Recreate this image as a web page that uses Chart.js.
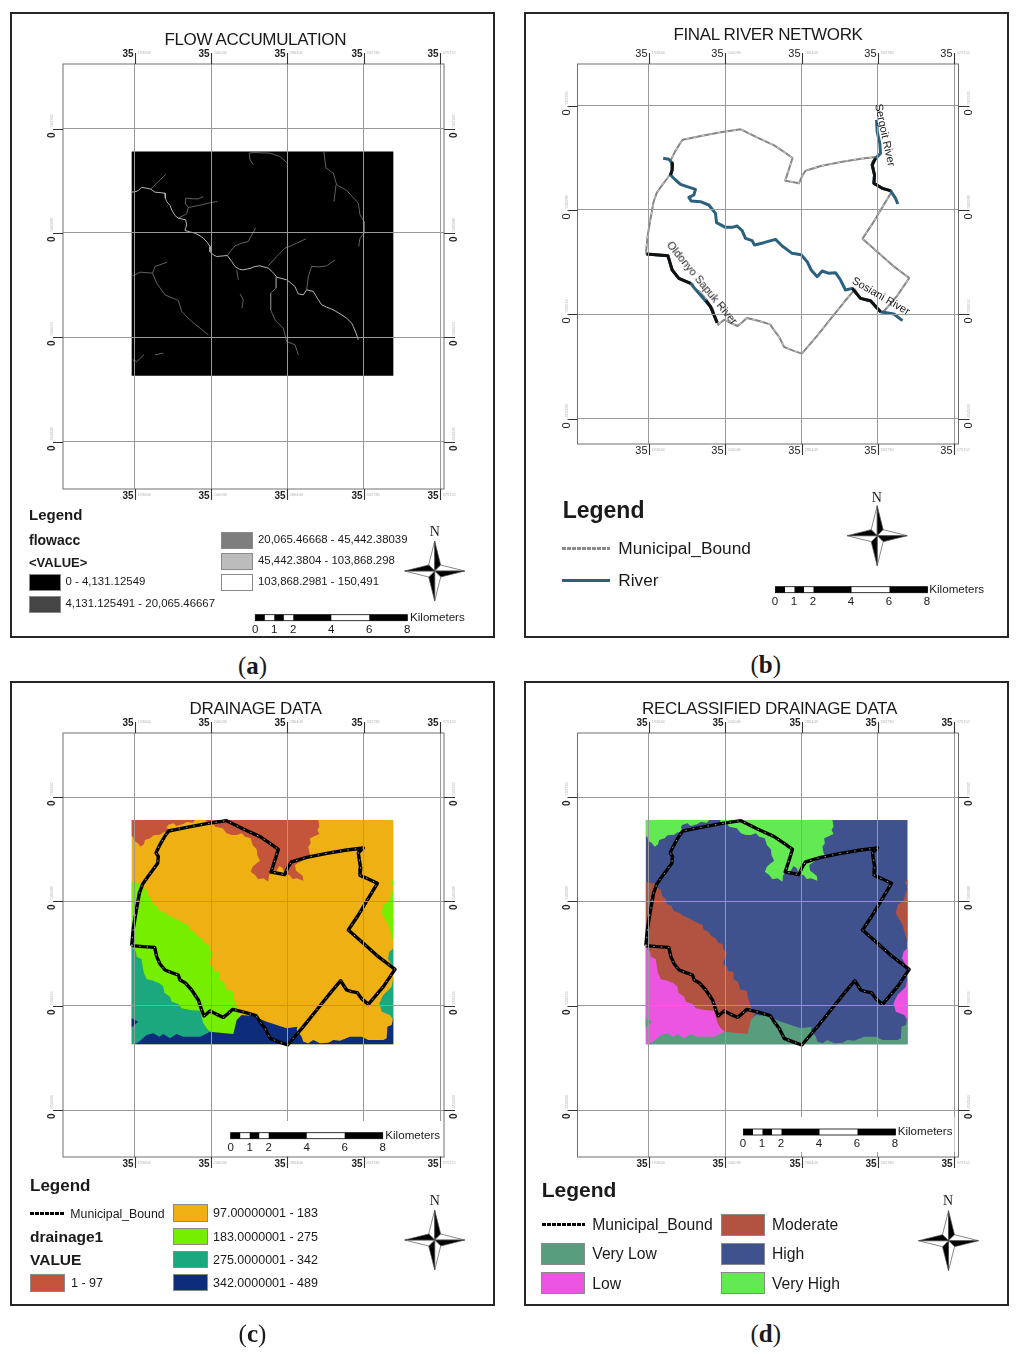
<!DOCTYPE html>
<html>
<head>
<meta charset="utf-8">
<title>Drainage maps</title>
<script src="https://cdn.jsdelivr.net/npm/chart.js@4"></script>
<style>
  html, body { margin: 0; padding: 0; background: #fff; }
  body { position: relative; width: 1024px; height: 1354px; overflow: hidden; font-family: "Liberation Sans", Arial, sans-serif; color: #1a1a1a; }
  .frame { position: absolute; box-sizing: border-box; border: 2px solid #262626; background: #fff; }
  canvas { position: absolute; }
  .txt { position: absolute; white-space: nowrap; line-height: 1; }
  .swatch { position: absolute; box-sizing: border-box; border: 1px solid #8a8a8a; }
</style>
</head>
<body>
<script>
// Map grid, in map units (1 unit = a third of a pixel)
var xGrid = [44, 273, 502, 731, 960];
var yGrid = [-39, 273, 587, 900];
var xTickLabels = ["193664", "240036", "286408", "332780", "379152"];
var yTickLabels = ["593360", "546988", "500616", "454244"];
var rasterX = [35, 820];
var rasterY = [30, 703];

var municipalBound = [[35,407],[40,355],[50,295],[58,250],[68,222],[85,198],[100,178],[113,160],[115,140],[108,128],[122,100],[135,78],[146,63],[200,52],[260,41],[320,32],[370,57],[420,80],[450,100],[475,118],[465,150],[453,186],[475,190],[494,194],[505,170],[514,156],[560,142],[620,130],[680,120],[730,114],[715,128],[718,150],[722,175],[720,196],[745,207],[772,220],[745,265],[715,315],[685,360],[730,400],[775,440],[825,478],[790,530],[745,583],[725,566],[712,548],[695,545],[680,540],[672,528],[662,512],[630,550],[590,600],[550,650],[503,705],[475,695],[450,685],[435,655],[420,635],[408,617],[375,607],[338,598],[325,610],[310,622],[290,613],[270,603],[252,618],[245,600],[235,570],[215,540],[195,518],[180,510],[175,495],[155,488],[135,480],[120,462],[110,440],[104,412],[70,410],[35,407]];

// Drainage classes
var classOneWest = [[35,30],[225,30],[218,38],[200,36],[190,42],[170,48],[160,40],[145,44],[140,52],[146,63],[128,68],[120,74],[100,76],[92,84],[75,90],[72,102],[62,110],[52,98],[42,92],[40,82],[35,78]];
var classOneNorth = [[258,30],[595,30],[598,50],[592,60],[598,72],[585,78],[570,85],[572,100],[565,110],[568,128],[575,140],[548,150],[525,165],[528,182],[538,190],[548,198],[550,212],[530,205],[518,207],[508,195],[495,195],[488,175],[478,168],[470,182],[455,188],[447,195],[445,215],[430,205],[415,208],[405,195],[392,185],[398,170],[410,160],[420,152],[412,135],[410,118],[398,105],[392,85],[375,80],[365,70],[350,75],[335,75],[320,70],[308,55],[285,50],[278,40],[258,35]];
var classThreeWest = [[35,215],[65,222],[72,235],[80,240],[84,258],[95,268],[98,282],[112,288],[118,302],[135,308],[148,318],[165,325],[178,332],[192,340],[205,345],[208,358],[222,365],[232,378],[245,385],[252,398],[265,402],[268,418],[278,428],[272,445],[266,462],[278,470],[282,483],[298,486],[298,508],[312,515],[318,538],[338,543],[342,565],[350,590],[362,612],[352,630],[346,682],[260,682],[35,655]];
var classThreeEast = [[820,210],[812,215],[820,232],[808,272],[790,285],[785,310],[805,345],[820,395]];
var classFourWest = [[35,412],[48,425],[50,440],[65,448],[68,470],[72,490],[80,508],[100,512],[118,520],[130,530],[133,548],[150,560],[155,575],[175,582],[185,595],[210,600],[240,602],[246,625],[250,640],[260,655],[275,670],[240,685],[200,695],[150,698],[60,700],[35,703]];
var classFourEastUpper = [[820,415],[808,425],[804,445],[820,475]];
var classFourEastLower = [[820,500],[815,530],[790,555],[778,580],[785,605],[810,615],[820,630]];
var classFiveBottom = [[820,622],[815,645],[802,650],[800,685],[790,690],[745,690],[725,680],[690,680],[660,692],[640,690],[625,698],[600,700],[580,690],[565,700],[550,695],[545,680],[530,660],[532,650],[500,655],[470,645],[440,635],[415,625],[400,618],[365,615],[350,630],[340,672],[300,668],[270,665],[240,680],[215,680],[190,680],[170,672],[150,685],[130,672],[118,680],[100,670],[80,675],[60,692],[50,700],[40,703],[820,703]];
var classFiveWest = [[35,625],[55,635],[35,652]];

// Flow lines, panel (a)
var flowMain = [[35,152],[48,150],[55,147],[65,138],[80,140],[92,143],[105,152],[135,155],[136,170],[140,180],[150,192],[155,205],[165,222],[175,230],[197,235],[200,250],[195,267],[212,272],[225,275],[240,283],[250,290],[262,303],[270,315],[270,330],[280,340],[290,345],[322,342],[335,360],[345,375],[358,383],[368,385],[390,381],[405,375],[420,373],[445,380],[458,392],[465,400],[470,407],[500,415],[512,424],[525,435],[530,447],[535,457],[550,460],[560,445],[580,450],[592,470],[605,490],[620,497],[640,505],[660,517],[680,530],[695,545],[700,555],[708,575],[715,595]];
var flowNorthWest = [[92,143],[115,120],[138,98]];
var flowLoopUpper = [[175,230],[200,217],[205,198],[195,185],[197,170],[220,172],[235,172],[250,165]];
var flowLoopLower = [[205,198],[235,192],[265,185],[292,180]];
var flowCentral = [[322,342],[335,325],[345,313],[365,305],[385,300],[395,280],[407,260]];
var flowEast = [[445,373],[470,345],[495,320],[515,312],[530,305],[558,292]];
var flowSouthEast = [[560,445],[565,405],[575,375],[600,376],[620,373],[645,355]];
var flowStubOne = [[350,385],[355,415]];
var flowStubTwo = [[360,457],[370,475],[366,500]];
var flowSouth = [[470,407],[468,440],[452,455],[452,505],[465,535],[490,560],[500,600],[525,610],[535,640]];
var flowNorthEast = [[612,30],[615,60],[618,80],[632,90],[640,95],[650,130],[680,147],[715,185],[720,220],[732,240],[732,275],[720,290],[716,315]];
var flowNorthEastStub = [[648,130],[642,180]];
var flowNorth = [[388,35],[400,33],[450,35],[480,45],[500,63]];
var flowNorthStub = [[388,35],[390,55],[400,70]];
var flowLower = [[38,403],[60,392],[98,395],[110,425],[135,460],[175,477],[185,510],[215,540],[265,580]];
var flowLowerStub = [[98,395],[105,375],[142,362]];
var flowCornerOne = [[38,655],[50,660],[72,640]];
var flowCornerTwo = [[105,640],[130,635]];

// Rivers, panel (b)
var sosianiRiver = [[87,119],[104,122],[115,134],[114,154],[109,169],[124,184],[139,197],[159,204],[184,212],[179,229],[164,236],[171,247],[199,249],[224,259],[244,284],[247,312],[274,326],[294,326],[309,322],[324,336],[334,359],[354,366],[361,379],[389,372],[424,362],[444,382],[474,404],[501,408],[519,429],[531,454],[549,474],[564,457],[584,464],[604,462],[619,484],[634,514],[654,509],[679,539],[709,546],[739,579],[779,586],[805,606]];
var sergoitRiver = [[727,4],[729,39],[737,74],[739,104],[724,119],[714,139],[721,169],[719,194],[744,209],[769,216],[784,239],[791,256]];
var oldonyoRiver = [[37,406],[101,411],[114,454],[134,479],[169,494],[194,524],[229,564],[249,612]];
// stretches of river that show black on the map
var sosianiDarkUpper = [[115,134],[114,154],[109,169]];
var sosianiDarkLower = [[654,509],[679,539],[709,546],[739,579]];
var sergoitDark = [[724,119],[714,139],[721,169],[719,194],[744,209],[769,216]];
var oldonyoDarkUpper = [[37,406],[101,411],[114,454],[134,479],[169,494]];
var oldonyoDarkLower = [[215,545],[229,564],[249,612]];

// Legend entries
var flowBreaks = ["0 - 4,131.12549", "4,131.125491 - 20,065.46667", "20,065.46668 - 45,442.38039", "45,442.3804 - 103,868.298", "103,868.2981 - 150,491"];
var flowColors = ["#000000", "#454545", "#7e7e7e", "#bcbcbc", "#ffffff"];
var drainageBreaks = ["1 - 97", "97.00000001 - 183", "183.0000001 - 275", "275.0000001 - 342", "342.0000001 - 489"];
var drainageColors = ["#c4543a", "#efb013", "#76ee00", "#1ca87e", "#0e2c7c"];
var reclassNames = ["Very High", "High", "Moderate", "Low", "Very Low"];
var reclassColors = ["#63ea52", "#40528e", "#b25240", "#ec55e2", "#589e7e"];
var scaleKm = [0, 1, 2, 4, 6, 8];
var scaleParts = [[0, 0.5], [1, 1.5], [2, 4], [6, 8]];


function pts(list) {
    return list.map(function (p) { return {x: p[0], y: p[1]}; });
}

function lineSet(list, color, width, dash) {
    return {
        type: "line",
        data: pts(list),
        borderColor: color,
        borderWidth: width,
        borderDash: dash || [],
        borderJoinStyle: "round",
        pointRadius: 0,
        tension: 0,
        fill: false
    };
}

function fillSet(list, color) {
    return {
        type: "line",
        data: pts(list),
        borderWidth: 0,
        backgroundColor: color,
        pointRadius: 0,
        tension: 0,
        fill: "shape"
    };
}

function rasterRect() {
    return [[rasterX[0], rasterY[0]], [rasterX[1], rasterY[0]], [rasterX[1], rasterY[1]], [rasterX[0], rasterY[1]]];
}

function drainageSets(colors) {
    return [
        fillSet(rasterRect(), colors[1]),
        fillSet(classOneWest, colors[0]),
        fillSet(classOneNorth, colors[0]),
        fillSet(classThreeWest, colors[2]),
        fillSet(classThreeEast, colors[2]),
        fillSet(classFourWest, colors[3]),
        fillSet(classFourEastUpper, colors[3]),
        fillSet(classFourEastLower, colors[3]),
        fillSet(classFiveBottom, colors[4]),
        fillSet(classFiveWest, colors[4]),
        lineSet(municipalBound, "#000000", 3.4),
        lineSet(municipalBound, "#e8e8e8", 0.7, [1.5, 6])
    ];
}

function flowSets() {
    var sets = [fillSet(rasterRect(), "#000000")];
    [flowLoopUpper, flowLoopLower, flowCentral, flowEast, flowSouthEast, flowStubOne, flowStubTwo, flowSouth,
        flowNorthEast, flowNorthEastStub, flowNorth, flowNorthStub, flowLower, flowLowerStub, flowCornerOne,
        flowCornerTwo, flowNorthWest].forEach(function (l) {
        sets.push(lineSet(l, "#7a7a7a", 0.8));
    });
    sets.push(lineSet(flowMain, "#b5b5b5", 1));
    return sets;
}

function riverSets() {
    return [
        lineSet(municipalBound, "#858585", 2),
        lineSet(municipalBound, "#ffffff", 0.6, [3, 5]),
        lineSet(sosianiRiver, "#2b617d", 3),
        lineSet(sergoitRiver, "#2b617d", 3),
        lineSet(oldonyoRiver, "#2b617d", 3),
        lineSet(sosianiDarkUpper, "#111111", 3),
        lineSet(sosianiDarkLower, "#111111", 3),
        lineSet(sergoitDark, "#111111", 3),
        lineSet(oldonyoDarkUpper, "#111111", 3),
        lineSet(oldonyoDarkLower, "#111111", 3)
    ];
}


// North arrow and scale bar
function drawNorth(ctx, cx, cy, r) {
    var inner = r * 0.2;
    function tri(x1, y1, x2, y2, x3, y3, fill) {
        ctx.beginPath();
        ctx.moveTo(x1, y1);
        ctx.lineTo(x2, y2);
        ctx.lineTo(x3, y3);
        ctx.closePath();
        ctx.fillStyle = fill;
        ctx.fill();
        ctx.lineWidth = 0.7;
        ctx.strokeStyle = "#555";
        ctx.stroke();
    }
    tri(cx, cy, cx, cy - r, cx - inner, cy - inner, "#fff");
    tri(cx, cy, cx, cy - r, cx + inner, cy - inner, "#000");
    tri(cx, cy, cx + r, cy, cx + inner, cy - inner, "#fff");
    tri(cx, cy, cx + r, cy, cx + inner, cy + inner, "#000");
    tri(cx, cy, cx, cy + r, cx + inner, cy + inner, "#fff");
    tri(cx, cy, cx, cy + r, cx - inner, cy + inner, "#000");
    tri(cx, cy, cx - r, cy, cx - inner, cy + inner, "#fff");
    tri(cx, cy, cx - r, cy, cx - inner, cy - inner, "#000");
}

function drawScaleBar(ctx, x, y) {
    var pxPerKm = 19;
    ctx.fillStyle = "#fff";
    ctx.fillRect(x, y, 8 * pxPerKm, 6);
    ctx.fillStyle = "#000";
    scaleParts.forEach(function (p) {
        ctx.fillRect(x + p[0] * pxPerKm, y, (p[1] - p[0]) * pxPerKm, 6);
    });
    ctx.strokeStyle = "#000";
    ctx.lineWidth = 0.8;
    ctx.strokeRect(x, y, 8 * pxPerKm, 6);
}

// Neat line, outer ticks, tick labels, north arrow, scale bar
var mapFurniture = {
    id: "mapFurniture",
    afterDraw: function (chart, args, o) {
        var ctx = chart.ctx, a = chart.chartArea;
        var xs = chart.scales.x, ys = chart.scales.y;
        ctx.save();
        ctx.strokeStyle = "#707070";
        ctx.lineWidth = 1;
        ctx.strokeRect(a.left, a.top, a.right - a.left, a.bottom - a.top);

        if (o.mask) {
            ctx.fillStyle = "#fff";
            ctx.fillRect(o.mask[0] - o.left, o.mask[1] - o.top, o.mask[2], o.mask[3]);
        }

        var big = o.tickFont + " \"Liberation Sans\", Arial, sans-serif";
        var tiny = "4px \"Liberation Sans\", Arial, sans-serif";

        xGrid.forEach(function (v, i) {
            var px = Math.round(xs.getPixelForValue(v)) + 0.5;
            ctx.strokeStyle = "#333";
            ctx.lineWidth = 1.1;
            ctx.beginPath();
            ctx.moveTo(px, a.top - 11);
            ctx.lineTo(px, a.top);
            ctx.moveTo(px, a.bottom);
            ctx.lineTo(px, a.bottom + 11);
            ctx.stroke();
            ctx.fillStyle = "#222";
            ctx.font = big;
            ctx.textAlign = "right";
            ctx.textBaseline = "alphabetic";
            ctx.fillText("35", px - 2, a.top - 7);
            ctx.fillText("35", px - 2, a.bottom + 10);
            ctx.fillStyle = "#b5b5b5";
            ctx.font = tiny;
            ctx.textAlign = "left";
            ctx.fillText(xTickLabels[i], px + 2, a.top - 10);
            ctx.fillText(xTickLabels[i], px + 2, a.bottom + 7);
        });

        yGrid.forEach(function (v, i) {
            var py = Math.round(ys.getPixelForValue(v)) + 0.5;
            ctx.strokeStyle = "#333";
            ctx.lineWidth = 1.1;
            ctx.beginPath();
            ctx.moveTo(a.left - 10, py);
            ctx.lineTo(a.left, py);
            ctx.moveTo(a.right, py);
            ctx.lineTo(a.right + 11, py);
            ctx.stroke();
            [a.left - 8, a.right + 13].forEach(function (px) {
                ctx.save();
                ctx.translate(px, py);
                ctx.rotate(-Math.PI / 2);
                ctx.fillStyle = "#222";
                ctx.font = big;
                ctx.textAlign = "right";
                ctx.textBaseline = "alphabetic";
                ctx.fillText("0", -3, 0);
                ctx.fillStyle = "#b5b5b5";
                ctx.font = tiny;
                ctx.textAlign = "left";
                ctx.fillText(yTickLabels[i], 2, -2);
                ctx.restore();
            });
        });

        drawNorth(ctx, o.north[0] - o.left, o.north[1] - o.top, 30);
        drawScaleBar(ctx, o.scale[0] - o.left, o.scale[1] - o.top);
        ctx.restore();
    }
};


// Page helpers, everything placed in page pixels
function addText(text, x, y, size, opts) {
    opts = opts || {};
    var el = document.createElement("div");
    el.className = "txt";
    el.textContent = text;
    el.style.left = x + "px";
    el.style.top = y + "px";
    el.style.fontSize = size + "px";
    if (opts.bold) el.style.fontWeight = "bold";
    if (opts.family) el.style.fontFamily = opts.family;
    var tr = "translateY(-50%)";
    if (opts.center) tr = "translate(-50%, -50%)";
    if (opts.rotate) tr += " rotate(" + opts.rotate + "deg)";
    if (opts.spacing) el.style.letterSpacing = opts.spacing + "px";
    el.style.transform = tr;
    document.body.appendChild(el);
    return el;
}

function addSwatch(color, x, y, w, h) {
    var el = document.createElement("div");
    el.className = "swatch";
    el.style.left = x + "px";
    el.style.top = y + "px";
    el.style.width = w + "px";
    el.style.height = h + "px";
    el.style.background = color;
    document.body.appendChild(el);
}

function addLineSample(x, y, w, color, h, dashColor) {
    var el = document.createElement("div");
    el.style.position = "absolute";
    el.style.left = x + "px";
    el.style.top = (y - h / 2) + "px";
    el.style.width = w + "px";
    el.style.height = h + "px";
    el.style.background = dashColor
        ? "repeating-linear-gradient(90deg," + color + " 0 4px," + dashColor + " 4px 5px)"
        : color;
    document.body.appendChild(el);
}

function addCaption(letter, cx, cy) {
    var el = addText("", cx, cy, 25, {center: true, family: "\"Liberation Serif\", serif"});
    el.innerHTML = "(<b>" + letter + "</b>)";
}

function addScaleText(x, labelY, kmX, kmY) {
    scaleKm.forEach(function (k) {
        addText(String(k), x + k * 19, labelY, 11.5, {center: true});
    });
    addText("Kilometers", kmX, kmY, 11.6);
}

// One map panel
function addMap(p, datasets) {
    var frame = document.createElement("div");
    frame.className = "frame";
    frame.style.left = p.frame[0] + "px";
    frame.style.top = p.frame[1] + "px";
    frame.style.width = p.frame[2] + "px";
    frame.style.height = p.frame[3] + "px";
    document.body.appendChild(frame);

    var canvas = document.createElement("canvas");
    canvas.style.left = p.frame[0] + "px";
    canvas.style.top = p.frame[1] + "px";
    canvas.style.width = p.frame[2] + "px";
    canvas.style.height = p.frame[3] + "px";
    canvas.width = p.frame[2];
    canvas.height = p.frame[3];
    document.body.appendChild(canvas);

    // later sets paint on top
    datasets.forEach(function (d, i) { d.order = datasets.length - i; });

    return new Chart(canvas.getContext("2d"), {
        type: "line",
        data: {datasets: datasets},
        plugins: [mapFurniture],
        options: {
            responsive: false,
            animation: false,
            devicePixelRatio: 1,
            layout: {
                padding: {
                    left: p.neat[0] - p.frame[0],
                    top: p.neat[1] - p.frame[1],
                    right: p.frame[0] + p.frame[2] - p.neat[2],
                    bottom: p.frame[1] + p.frame[3] - p.neat[3]
                }
            },
            scales: {
                x: {
                    type: "linear",
                    min: (p.neat[0] - p.origin[0]) * 3,
                    max: (p.neat[2] - p.origin[0]) * 3,
                    afterBuildTicks: function (s) { s.ticks = xGrid.map(function (v) { return {value: v}; }); },
                    ticks: {display: false, autoSkip: false},
                    border: {display: false},
                    grid: {color: "#999999", lineWidth: 1, drawTicks: false, z: 1}
                },
                y: {
                    type: "linear",
                    reverse: true,
                    min: (p.neat[1] - p.origin[1]) * 3,
                    max: (p.neat[3] - p.origin[1]) * 3,
                    afterBuildTicks: function (s) { s.ticks = yGrid.map(function (v) { return {value: v}; }); },
                    ticks: {display: false, autoSkip: false},
                    border: {display: false},
                    grid: {color: "#999999", lineWidth: 1, drawTicks: false, z: 1}
                }
            },
            plugins: {
                legend: {display: false},
                title: {display: false},
                tooltip: {enabled: false},
                filler: {propagate: false},
                mapFurniture: {
                    left: p.frame[0],
                    top: p.frame[1],
                    north: p.north,
                    scale: p.scale,
                    mask: p.mask,
                    tickFont: p.tickFont
                }
            }
        }
    });
}


// (a) Flow accumulation
addMap({
    frame: [10, 12, 485, 626], neat: [63, 64, 444, 489], origin: [120, 141.5],
    north: [434.7, 571], scale: [255.3, 614.7], tickFont: "bold 10px"
}, flowSets());
addText("FLOW ACCUMULATION", 255.3, 39, 17, {center: true, spacing: -0.35});
addText("Legend", 29, 514, 15, {bold: true});
addText("flowacc", 29, 540, 14, {bold: true});
addText("<VALUE>", 29, 561.5, 13, {bold: true});
addSwatch(flowColors[0], 29, 574, 32, 17);
addSwatch(flowColors[1], 29, 595.5, 32, 17);
addSwatch(flowColors[2], 221, 532, 32, 17);
addSwatch(flowColors[3], 221, 553, 32, 17);
addSwatch(flowColors[4], 221, 574, 32, 17);
addText(flowBreaks[0], 65.5, 582, 11.4);
addText(flowBreaks[1], 65.5, 604, 11.4);
addText(flowBreaks[2], 258, 540, 11.4);
addText(flowBreaks[3], 258, 561, 11.4);
addText(flowBreaks[4], 258, 582, 11.4);
addText("N", 434.7, 532, 14, {center: true, family: "\"Liberation Serif\", serif"});
addScaleText(255.3, 630, 410, 616.7);
addCaption("a", 252.5, 665);

// (b) Final river network
addMap({
    frame: [523.5, 12, 485, 626], neat: [577, 64, 958, 444], origin: [633.67, 118.67],
    north: [876.7, 535.7], scale: [775, 586.7], tickFont: "11px"
}, riverSets());
addText("FINAL RIVER NETWORK", 768, 33.5, 17, {center: true, spacing: -0.35});
addText("Sergoit River", 885, 135, 11, {center: true, rotate: 78});
addText("Oldonyo Sapuk River", 701.7, 282.7, 11, {center: true, rotate: 50.5});
addText("Sosiani River", 881.3, 295.7, 11, {center: true, rotate: 30});
addText("Legend", 562.7, 509.5, 23, {bold: true});
addLineSample(561.7, 548.3, 48, "#8a8a8a", 2.5, "#ffffff");
addText("Municipal_Bound", 618.3, 548.5, 17.3);
addLineSample(561.7, 580.7, 48, "#2b617d", 3);
addText("River", 618.3, 581, 17.3);
addText("N", 876.7, 497.7, 14, {center: true, family: "\"Liberation Serif\", serif"});
addScaleText(775, 602.3, 929.3, 588.7);
addCaption("b", 765.7, 664);

// (c) Drainage data
addMap({
    frame: [10, 681, 485, 625], neat: [63, 733, 444, 1157], origin: [120, 810],
    north: [434.7, 1240], scale: [230.7, 1132.7], tickFont: "bold 10px",
    mask: [224, 1121, 219, 35]
}, drainageSets(drainageColors));
addText("DRAINAGE DATA", 255.5, 707.5, 17, {center: true, spacing: -0.35});
addText("Legend", 30, 1185, 17, {bold: true});
addLineSample(30, 1213.3, 34, "#000000", 2.5, "#ffffff");
addText("Municipal_Bound", 70.3, 1213.7, 12.3);
addText("drainage1", 30, 1237, 15.5, {bold: true});
addText("VALUE", 30, 1260, 15.5, {bold: true});
addSwatch(drainageColors[0], 30, 1274, 35, 17.5);
addText(drainageBreaks[0], 71, 1283, 12.5);
for (var c = 1; c < 5; c++) {
    addSwatch(drainageColors[c], 173, 1204.3 + (c - 1) * 23.2, 34.5, 17.5);
    addText(drainageBreaks[c], 213, 1213.3 + (c - 1) * 23.2, 12.5);
}
addText("N", 434.7, 1200.7, 14, {center: true, family: "\"Liberation Serif\", serif"});
addScaleText(230.7, 1148.3, 385.3, 1134.7);
addCaption("c", 252.5, 1332.5);

// (d) Reclassified drainage data
addMap({
    frame: [523.5, 681, 485, 625], neat: [577, 733, 958, 1157], origin: [633.67, 810],
    north: [948, 1240.7], scale: [743, 1129], tickFont: "bold 10px",
    mask: [736, 1117, 218, 35]
}, drainageSets(reclassColors));
addText("RECLASSIFIED DRAINAGE DATA", 769.5, 707.5, 17, {center: true, spacing: -0.35});
addText("Legend", 541.7, 1188.5, 21, {bold: true});
addLineSample(541.7, 1224.7, 43, "#000000", 2.5, "#ffffff");
addText("Municipal_Bound", 592.3, 1225, 15.7);
addSwatch(reclassColors[4], 541, 1242.7, 44, 22.3);
addSwatch(reclassColors[3], 541, 1272, 44, 22);
addSwatch(reclassColors[2], 721, 1213.7, 44, 22);
addSwatch(reclassColors[1], 721, 1242.7, 44, 22.3);
addSwatch(reclassColors[0], 721, 1272, 44, 22);
addText(reclassNames[4], 592.3, 1254, 15.7);
addText(reclassNames[3], 592.3, 1283.5, 15.7);
addText(reclassNames[2], 772, 1225, 15.7);
addText(reclassNames[1], 772, 1254, 15.7);
addText(reclassNames[0], 772, 1283.5, 15.7);
addText("N", 948, 1200.7, 14, {center: true, family: "\"Liberation Serif\", serif"});
addScaleText(743, 1144.3, 897.7, 1131);
addCaption("d", 765.7, 1332.5);
</script>
</body>
</html>
